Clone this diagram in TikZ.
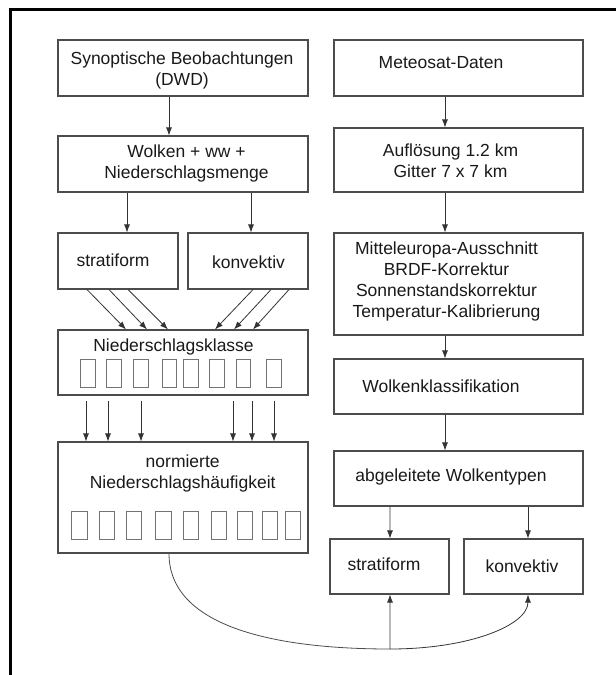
\documentclass[tikz,border=0pt]{standalone}
\usepackage{fontspec}
\setmainfont{Liberation Sans}
\usetikzlibrary{arrows.meta}
\tikzset{
  box/.style={rectangle, draw=black!70, line width=1.1pt, inner sep=0pt},
  txt/.style={align=center, inner sep=0pt, text=black!90, font=\fontsize{17.5}{21}\selectfont},
  bin/.style={rectangle, draw=black!55, line width=0.9pt, inner sep=0pt, minimum height=28pt},
  arr/.style={draw=black!80, line width=0.8pt, -{Latex[length=8pt,width=6pt]}},
  lin/.style={draw=black!70, line width=0.8pt}
}
\begin{document}
\begin{tikzpicture}[x=10pt,y=-10pt]
\useasboundingbox (0,0) rectangle (61.6,67.5);
% frame
\draw[line width=2.5pt] (1.05,67.5) -- (1.05,0.95) -- (61.6,0.95);
% left column
\node[box, minimum width=250pt, minimum height=56pt] (syn) at (18.3,6.8) {};
\node[txt] (synT) at (18.2,7.0) {Synoptische Beobachtungen\\(DWD)};
\node[box, minimum width=250pt, minimum height=56pt] (wolk) at (18.3,16.4) {};
\node[txt] (wolkT) at (18.65,16.35) {Wolken + ww +\\Niederschlagsmenge};
\node[box, minimum width=120pt, minimum height=56pt] (strL) at (11.8,26.1) {};
\node[txt] (strLT) at (11.3,26.0) {stratiform};
\node[box, minimum width=120pt, minimum height=56pt] (konL) at (24.8,26.1) {};
\node[txt] (konLT) at (24.85,26.2) {konvektiv};
\node[box, minimum width=250pt, minimum height=65pt] (nk) at (18.3,36.25) {};
\node[txt] (nkT) at (17.35,34.7) {Niederschlagsklasse};
\node[bin, minimum width=14.5pt] (k1) at (8.8,37.3) {};
\node[bin, minimum width=14.5pt] (k2) at (11.4,37.3) {};
\node[bin, minimum width=14.5pt] (k3) at (14.1,37.3) {};
\node[bin, minimum width=14.5pt] (k4) at (16.95,37.3) {};
\node[bin, minimum width=14.5pt] (k5) at (19.1,37.3) {};
\node[bin, minimum width=14.5pt] (k6) at (21.7,37.3) {};
\node[bin, minimum width=14.5pt] (k7) at (24.35,37.3) {};
\node[bin, minimum width=14.5pt] (k8) at (27.4,37.3) {};
\node[box, minimum width=250pt, minimum height=111pt] (norm) at (18.3,49.75) {};
\node[txt] (normT) at (18.27,47.35) {normierte\\Niederschlagsh\"aufigkeit};
\node[bin, minimum width=15.5pt] (h1) at (7.95,52.5) {};
\node[bin, minimum width=15.5pt] (h2) at (10.7,52.5) {};
\node[bin, minimum width=15.5pt] (h3) at (13.4,52.5) {};
\node[bin, minimum width=15.5pt] (h4) at (16.35,52.5) {};
\node[bin, minimum width=15.5pt] (h5) at (19.1,52.5) {};
\node[bin, minimum width=15.5pt] (h6) at (21.9,52.5) {};
\node[bin, minimum width=15.5pt] (h7) at (24.5,52.5) {};
\node[bin, minimum width=15.5pt] (h8) at (27.0,52.5) {};
\node[bin, minimum width=15.5pt] (h9) at (29.3,52.5) {};
% right column
\node[box, minimum width=249pt, minimum height=56pt] (met) at (45.85,6.8) {};
\node[txt] (metT) at (44.1,6.3) {Meteosat-Daten};
\node[box, minimum width=249pt, minimum height=64pt] (aufl) at (45.85,16.0) {};
\node[txt] (auflT) at (45.05,16.1) {Aufl\"osung 1.2 km\\Gitter 7 x 7 km};
\node[box, minimum width=249pt, minimum height=102pt] (mitt) at (45.85,28.4) {};
\node[txt] (mittT) at (44.65,28.1) {Mitteleuropa-Ausschnitt\\BRDF-Korrektur\\Sonnenstandskorrektur\\Temperatur-Kalibrierung};
\node[box, minimum width=249pt, minimum height=55pt] (wkl) at (45.85,38.65) {};
\node[txt] (wklT) at (44.1,38.6) {Wolkenklassifikation};
\node[box, minimum width=249pt, minimum height=55pt] (abg) at (45.85,47.85) {};
\node[txt] (abgT) at (45.1,47.7) {abgeleitete Wolkentypen};
\node[box, minimum width=119pt, minimum height=55pt] (strR) at (38.95,56.65) {};
\node[txt] (strRT) at (38.4,56.4) {stratiform};
\node[box, minimum width=119pt, minimum height=55pt] (konR) at (52.35,56.65) {};
\node[txt] (konRT) at (52.2,56.6) {konvektiv};
\coordinate (jn) at (39.0,64.9);
\path
  ([xshift=-14pt]syn.south) edge[arr] ([xshift=-14pt]wolk.north)
  ([xshift=-56pt]wolk.south) edge[arr] ([xshift=9pt]strL.north)
  ([xshift=68pt]wolk.south) edge[arr] ([xshift=3pt]konL.north)
  ([xshift=-31pt]strL.south) edge[arr] ([xshift=-57pt]nk.north)
  ([xshift=-9pt]strL.south) edge[arr] ([xshift=-36pt]nk.north)
  ([xshift=10pt]strL.south) edge[arr] ([xshift=-15pt]nk.north)
  ([xshift=5pt]konL.south) edge[arr] ([xshift=32pt]nk.north)
  ([xshift=23pt]konL.south) edge[arr] ([xshift=51pt]nk.north)
  ([xshift=41pt]konL.south) edge[arr] ([xshift=70pt]nk.north)
  ([xshift=-97pt,yshift=-5pt]nk.south) edge[arr] ([xshift=-97pt]norm.north)
  ([xshift=-75pt,yshift=-5pt]nk.south) edge[arr] ([xshift=-75pt]norm.north)
  ([xshift=-42pt,yshift=-5pt]nk.south) edge[arr] ([xshift=-42pt]norm.north)
  ([xshift=50pt,yshift=-5pt]nk.south) edge[arr] ([xshift=50pt]norm.north)
  ([xshift=69pt,yshift=-5pt]nk.south) edge[arr] ([xshift=69pt]norm.north)
  ([xshift=91pt,yshift=-5pt]nk.south) edge[arr] ([xshift=91pt]norm.north)
  ([xshift=-13.5pt]met.south) edge[arr] ([xshift=-13.5pt]aufl.north)
  ([xshift=-13.5pt]aufl.south) edge[arr] ([xshift=-13.5pt]mitt.north)
  ([xshift=-13.5pt]mitt.south) edge[arr] ([xshift=-13.5pt]wkl.north)
  ([xshift=-13.5pt]wkl.south) edge[arr] ([xshift=-13.5pt]abg.north)
  ([xshift=-68.5pt]abg.south) edge[arr] ([xshift=0.5pt]strR.north)
  ([xshift=69.5pt]abg.south) edge[arr] ([xshift=4.5pt]konR.north)
  (jn) edge[arr] ([xshift=0.5pt]strR.south)
;
% feedback curve
\draw[lin] ([xshift=-14pt]norm.south) .. controls (16.9,62.5) and (27.0,64.9) .. (jn);
\draw[arr] (jn) .. controls (47.0,64.9) and (52.8,62.5) .. ([xshift=4.5pt]konR.south);
\end{tikzpicture}
\end{document}
